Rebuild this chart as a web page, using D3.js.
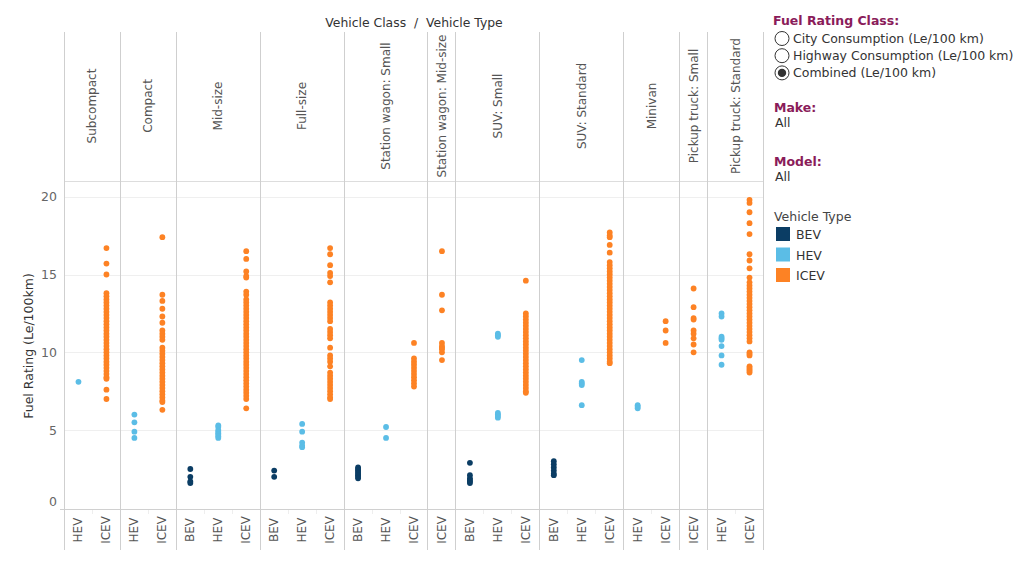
<!DOCTYPE html>
<html>
<head>
<meta charset="utf-8">
<script src="https://cdn.jsdelivr.net/npm/d3@7"></script>
<style>
  html, body { margin: 0; padding: 0; background: #fff; }
  svg { display: block; font-family: "DejaVu Sans", sans-serif; }
</style>
</head>
<body>
<svg id="chart" width="1024" height="563"></svg>
<script>
// ---------------- DATA ----------------
const classes = ["Subcompact", "Compact", "Mid-size", "Full-size", "Station wagon: Small",
  "Station wagon: Mid-size", "SUV: Small", "SUV: Standard", "Minivan",
  "Pickup truck: Small", "Pickup truck: Standard"];
const vehicleTypes = ["BEV", "HEV", "ICEV"];
const typeColors = ["#0b3d64", "#5bbde6", "#fd8224"];
const yTicks = [0, 5, 10, 15, 20];

// per class (null = type not present in that class)
const bevValues = [
  null, null,
  [2.5, 2.0, 1.7, 1.6],
  [2.4, 2.0],
  [2.6, 2.5, 2.4, 2.3, 2.2, 2.1, 2.0, 1.9],
  null,
  [2.9, 2.1, 1.9, 1.8, 1.7, 1.6],
  [3.0, 2.8, 2.6, 2.4, 2.2, 2.1],
  null, null, null
];
const hevValues = [
  [8.1],
  [6.0, 5.5, 4.9, 4.5],
  [5.3, 5.2, 5.0, 4.9, 4.8, 4.7, 4.6, 4.5],
  [5.4, 4.9, 4.2, 4.0, 3.9],
  [5.2, 4.5],
  null,
  [11.2, 11.1, 11.0, 6.1, 6.0, 5.9, 5.8],
  [9.5, 8.1, 8.0, 7.9, 6.6],
  [6.6, 6.5, 6.4],
  null,
  [12.5, 12.3, 11.0, 10.9, 10.8, 10.4, 9.8, 9.2]
];
const icevValues = [
  [16.7, 15.7, 15.0, 13.8, 13.6, 13.4, 13.2, 13.0, 12.8, 12.6, 12.4, 12.2, 12.0, 11.8, 11.6,
   11.4, 11.2, 11.0, 10.8, 10.6, 10.4, 10.2, 10.0, 9.8, 9.6, 9.4, 9.2, 9.0, 8.8, 8.6, 8.4,
   8.3, 7.6, 7.0],
  [17.4, 13.7, 13.3, 12.8, 12.3, 11.9, 11.4, 11.2, 11.0, 10.8, 10.3, 10.1, 9.9, 9.7, 9.5,
   9.3, 9.1, 8.9, 8.7, 8.5, 8.3, 8.1, 7.9, 7.7, 7.5, 7.3, 7.1, 6.9, 6.8, 6.3],
  [16.5, 16.0, 15.2, 14.9, 14.8, 13.9, 13.7, 13.4, 13.2, 13.0, 12.8, 12.6, 12.4, 12.2, 12.0,
   11.8, 11.6, 11.4, 11.2, 11.0, 10.8, 10.6, 10.4, 10.2, 10.0, 9.8, 9.6, 9.4, 9.2, 9.0, 8.8,
   8.6, 8.4, 8.2, 8.0, 7.8, 7.6, 7.4, 7.2, 7.0, 6.4],
  [16.7, 16.3, 15.6, 15.1, 14.9, 14.5, 13.2, 13.0, 12.8, 12.6, 12.4, 12.2, 12.0, 11.5, 11.3,
   11.1, 10.9, 10.3, 9.8, 9.6, 9.4, 9.1, 8.7, 8.5, 8.3, 8.1, 7.9, 7.7, 7.5, 7.3, 7.1, 7.0],
  [10.6, 9.6, 9.4, 9.2, 9.0, 8.8, 8.6, 8.4, 8.2, 8.0, 7.8],
  [16.5, 13.7, 12.7, 10.6, 10.4, 10.3, 10.2, 10.0, 9.5],
  [14.6, 12.5, 12.3, 12.1, 11.9, 11.7, 11.5, 11.3, 11.1, 10.9, 10.7, 10.5, 10.3, 10.1, 9.9,
   9.7, 9.5, 9.3, 9.1, 8.9, 8.7, 8.5, 8.3, 8.1, 7.9, 7.7, 7.5, 7.4],
  [17.7, 17.5, 17.4, 16.9, 16.4, 15.8, 15.6, 15.4, 15.2, 15.0, 14.8, 14.6, 14.4, 14.2, 14.0,
   13.8, 13.6, 13.4, 13.2, 13.0, 12.8, 12.6, 12.4, 12.2, 12.0, 11.8, 11.6, 11.4, 11.2, 11.0,
   10.8, 10.6, 10.4, 10.2, 10.0, 9.8, 9.6, 9.4, 9.3],
  [12.0, 11.4, 10.6],
  [14.1, 12.9, 12.2, 12.1, 11.4, 11.2, 10.9, 10.5, 10.0],
  [19.8, 19.6, 19.0, 18.3, 17.6, 16.3, 15.9, 15.4, 14.8, 14.5, 14.3, 14.1, 13.9, 13.7, 13.5,
   13.3, 13.1, 12.9, 12.7, 12.5, 12.3, 12.1, 11.9, 11.7, 11.5, 11.3, 11.1, 10.9, 10.7, 10.0,
   9.9, 9.8, 9.1, 9.0, 8.9, 8.8, 8.7]
];
const fuelRatingOptions = ["City Consumption (Le/100 km)", "Highway Consumption (Le/100 km)", "Combined (Le/100 km)"];
const selectedOption = 2;

// ---------------- BUILD ----------------
const seriesByType = [bevValues, hevValues, icevValues];
const columns = [];
classes.forEach((c, ci) => {
  vehicleTypes.forEach((t, ti) => {
    if (seriesByType[ti][ci]) columns.push({cls: c, ci, type: t, ti, key: c + "|" + t});
  });
});
const points = [];
columns.forEach(col => {
  seriesByType[col.ti][col.ci].forEach(v => points.push({key: col.key, ti: col.ti, v}));
});

const svg = d3.select("#chart");
const L = 64, R = 763, panelTop = 32, headerBottom = 181, plotBottom = 509, axisBottom = 550;

const x = d3.scaleBand().domain(columns.map(d => d.key)).range([L, R]).paddingInner(0).paddingOuter(0);
const y = d3.scaleLinear().domain([0, 20]).range([507.9, 196.7]);

const panels = classes.map(c => {
  const cols = columns.filter(d => d.cls === c);
  return {cls: c, x0: x(cols[0].key), x1: x(cols[cols.length - 1].key) + x.bandwidth()};
});

// gridlines
svg.append("g").selectAll("line").data(yTicks.filter(t => t > 0)).join("line")
  .attr("x1", L).attr("x2", R).attr("y1", d => Math.round(y(d)) + 0.5).attr("y2", d => Math.round(y(d)) + 0.5)
  .attr("stroke", "#efefef").attr("stroke-width", 1);

// faint column separators in x-axis area
svg.append("g").selectAll("line").data(columns.slice(1)).join("line")
  .attr("x1", d => Math.round(x(d.key)) + 0.5).attr("x2", d => Math.round(x(d.key)) + 0.5)
  .attr("y1", plotBottom).attr("y2", plotBottom + 5)
  .attr("stroke", "#eeeeee");

// header bottom line
svg.append("line").attr("x1", L).attr("x2", R).attr("y1", headerBottom + 0.5).attr("y2", headerBottom + 0.5)
  .attr("stroke", "#dddddd");
// bottom axis line
svg.append("line").attr("x1", 60).attr("x2", R).attr("y1", plotBottom + 0.5).attr("y2", plotBottom + 0.5)
  .attr("stroke", "#d0d0d0");

// panel borders
const borders = [L].concat(panels.map(p => p.x1));
svg.append("g").selectAll("line").data(borders).join("line")
  .attr("x1", d => Math.round(d) + 0.5).attr("x2", d => Math.round(d) + 0.5)
  .attr("y1", panelTop).attr("y2", axisBottom)
  .attr("stroke", "#cfcfcf");

// header labels
svg.append("g").selectAll("text").data(panels).join("text")
  .attr("transform", d => `translate(${(d.x0 + d.x1) / 2 + 4.5},106) rotate(-90)`)
  .attr("text-anchor", "middle")
  .attr("font-size", 12).attr("fill", "#555")
  .text(d => d.cls);

// top title
svg.append("text").attr("x", 414).attr("y", 27).attr("text-anchor", "middle")
  .attr("font-size", 12.4).attr("fill", "#333")
  .attr("xml:space", "preserve")
  .text("Vehicle Class  /  Vehicle Type");

// bottom column labels
svg.append("g").selectAll("text").data(columns).join("text")
  .attr("transform", d => `translate(${x(d.key) + x.bandwidth() / 2 + 4.5},530) rotate(-90)`)
  .attr("text-anchor", "middle")
  .attr("font-size", 12).attr("fill", "#555")
  .text(d => d.type);

// y axis
const yAxis = d3.axisLeft(y).tickValues(yTicks).tickSize(0).tickPadding(7);
const gy = svg.append("g").attr("transform", `translate(${L},0)`).call(yAxis);
gy.select(".domain").remove();
gy.selectAll("text").attr("font-size", 12.5).attr("fill", "#666")
  .attr("font-family", "DejaVu Sans, sans-serif");
gy.selectAll(".tick").filter(d => d === 0).select("text").attr("dy", "-0.2em");

svg.append("text").attr("transform", "translate(33,346) rotate(-90)")
  .attr("text-anchor", "middle").attr("font-size", 12.5).attr("fill", "#333")
  .text("Fuel Rating (Le/100km)");

// points
svg.append("g").selectAll("circle").data(points).join("circle")
  .attr("cx", d => x(d.key) + x.bandwidth() / 2 + 0.5)
  .attr("cy", d => y(d.v))
  .attr("r", 2.9)
  .attr("fill", d => typeColors[d.ti]);

// ---------------- LEGEND / CONTROLS ----------------
const lg = svg.append("g");
const titleColor = "#8a1c5a";
lg.append("text").attr("x", 773).attr("y", 25).attr("font-size", 12.5).attr("font-weight", "bold")
  .attr("fill", titleColor).text("Fuel Rating Class:");
fuelRatingOptions.forEach((o, i) => {
  const cy = 38.5 + i * 17.2;
  lg.append("circle").attr("cx", 782).attr("cy", cy).attr("r", 7).attr("fill", "#fff")
    .attr("stroke", "#333").attr("stroke-width", 1);
  if (i === selectedOption) lg.append("circle").attr("cx", 782).attr("cy", cy).attr("r", 4.2).attr("fill", "#333");
  lg.append("text").attr("x", 793).attr("y", cy + 4.5).attr("font-size", 12.5).attr("fill", "#333").text(o);
});
lg.append("text").attr("x", 774).attr("y", 112).attr("font-size", 12.5).attr("font-weight", "bold")
  .attr("fill", titleColor).text("Make:");
lg.append("text").attr("x", 775).attr("y", 127).attr("font-size", 12.5).attr("fill", "#333").text("All");
lg.append("text").attr("x", 774).attr("y", 166).attr("font-size", 12.5).attr("font-weight", "bold")
  .attr("fill", titleColor).text("Model:");
lg.append("text").attr("x", 775).attr("y", 181).attr("font-size", 12.5).attr("fill", "#333").text("All");
lg.append("text").attr("x", 774).attr("y", 221).attr("font-size", 12.5).attr("fill", "#444").text("Vehicle Type");
vehicleTypes.forEach((t, i) => {
  const yy = 227 + i * 20.5;
  lg.append("rect").attr("x", 776).attr("y", yy).attr("width", 14).attr("height", 14).attr("fill", typeColors[i]);
  lg.append("text").attr("x", 796).attr("y", yy + 12).attr("font-size", 12.5).attr("fill", "#333").text(t);
});
</script>
</body>
</html>
